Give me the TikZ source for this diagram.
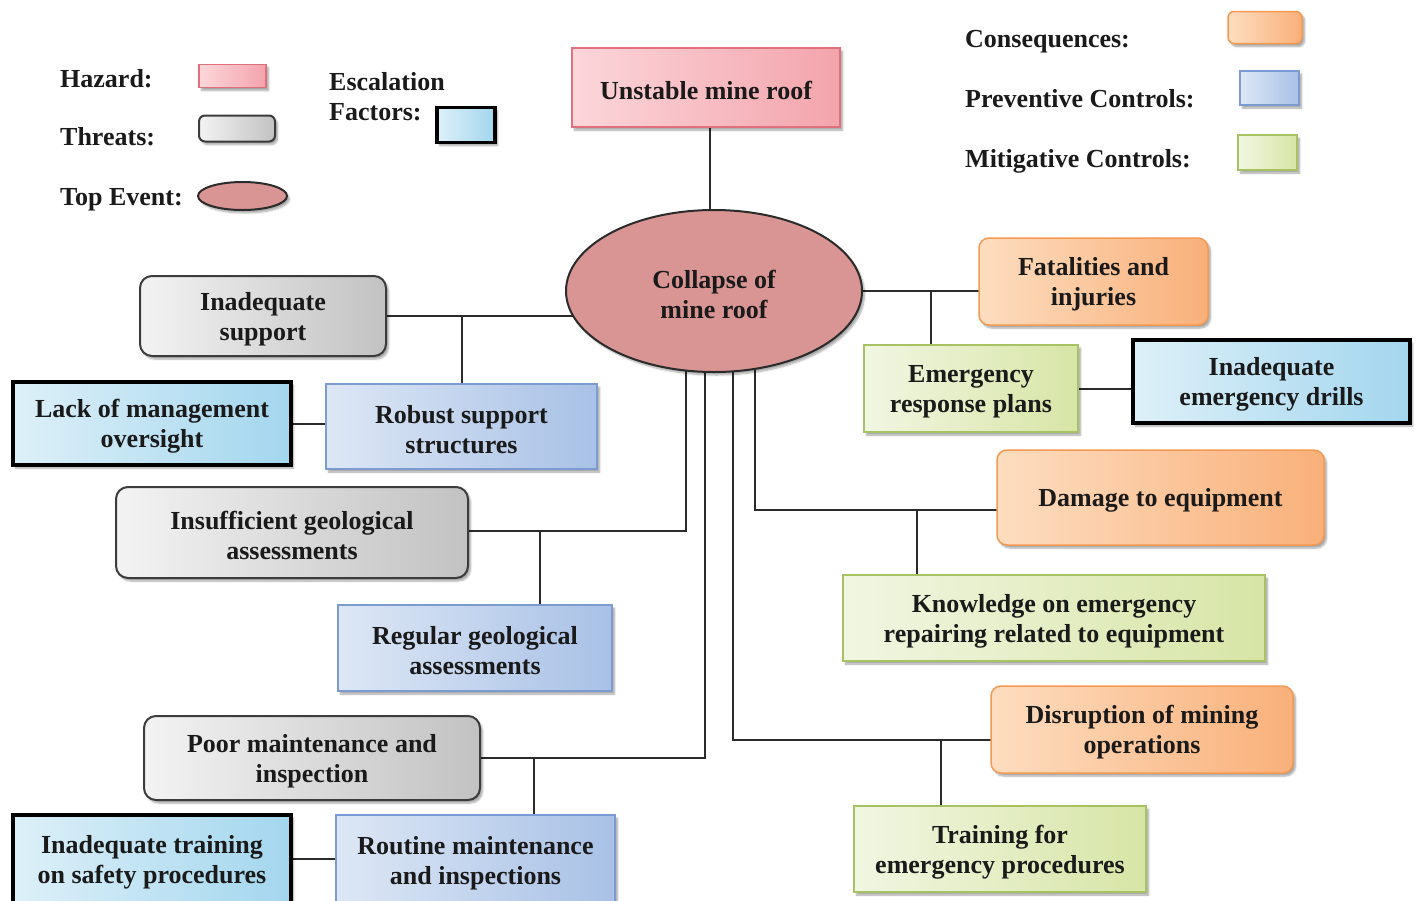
\documentclass[tikz,border=0pt]{standalone}
\usepackage{fontspec}
\setmainfont{Liberation Serif}
\usetikzlibrary{shapes.geometric,shadows.blur}
\pgfdeclarelayer{background}
\pgfsetlayers{background,main}
\definecolor{inkc}{HTML}{1A1A1A}
\definecolor{linec}{HTML}{2B2B2B}
\definecolor{hazL}{HTML}{FBD6DA}\definecolor{hazR}{HTML}{F3A4AC}\definecolor{hazB}{HTML}{E0707C}
\definecolor{thrL}{HTML}{F3F3F3}\definecolor{thrR}{HTML}{C2C2C2}\definecolor{thrB}{HTML}{3C3C3C}
\definecolor{topF}{HTML}{D99594}
\definecolor{escL}{HTML}{DDF0F8}\definecolor{escR}{HTML}{A3D6EE}
\definecolor{prvL}{HTML}{DDE7F5}\definecolor{prvR}{HTML}{A8C1E6}\definecolor{prvB}{HTML}{7C9BD0}
\definecolor{mitL}{HTML}{F1F6E2}\definecolor{mitR}{HTML}{D7E5A6}\definecolor{mitB}{HTML}{A6C262}
\definecolor{conL}{HTML}{FDDDC0}\definecolor{conR}{HTML}{F9B07A}\definecolor{conB}{HTML}{F39A52}
\newcommand{\lblfont}{\fontsize{26}{30}\selectfont\bfseries}
\begin{document}
\begin{tikzpicture}[x=1pt,y=-1pt,
  sz/.style 2 args={minimum width=#1pt,minimum height=#2pt},
  boxtext/.style={inner sep=0pt,align=center,font=\lblfont,text=inkc,yshift=-3pt},
  tx/.style={label={[boxtext]center:{#1}}},
  boxbase/.style={inner sep=0pt,
    blur shadow={shadow xshift=2.5pt,shadow yshift=-3pt,shadow opacity=35,shadow blur steps=6}},
  hazardbox/.style={boxbase,rectangle,draw=hazB,line width=1.5pt,left color=hazL,right color=hazR},
  threatbox/.style={boxbase,rectangle,rounded corners=12pt,draw=thrB,line width=2pt,left color=thrL,right color=thrR},
  topevent/.style={boxbase,ellipse,draw=linec,line width=2pt,fill=topF},
  escbox/.style={boxbase,rectangle,draw=black,line width=4.5pt,left color=escL,right color=escR},
  prevbox/.style={boxbase,rectangle,draw=prvB,line width=1.5pt,left color=prvL,right color=prvR},
  mitbox/.style={boxbase,rectangle,draw=mitB,line width=1.5pt,left color=mitL,right color=mitR},
  consbox/.style={boxbase,rectangle,rounded corners=10pt,draw=conB,line width=1.5pt,left color=conL,right color=conR},
  legtext/.style={font=\lblfont,text=inkc,inner sep=0pt,anchor=base west},
  link/.style={draw=linec,line width=2pt}]
\useasboundingbox (0,0) rectangle (1419,900);

% ---- legend ----
\node[legtext] (lhaz) at (60,87) {Hazard:};
\node[legtext] (lthr) at (60,145.5) {Threats:};
\node[legtext] (ltop) at (60,205.5) {Top Event:};
\node[legtext] (lesc1) at (329,90.5) {Escalation};
\node[legtext] (lesc2) at (329,120.5) {Factors:};
\node[legtext] (lcon) at (965,47.5) {Consequences:};
\node[legtext] (lprv) at (965,107) {Preventive Controls:};
\node[legtext] (lmit) at (965,167) {Mitigative Controls:};

\node[hazardbox,sz={67}{23}] (khaz) at (232.5,76) {};
\node[threatbox,sz={76}{26},rounded corners=6pt] (kthr) at (237,128.5) {};
\node[topevent,sz={89}{28}] (ktop) at (242.5,196) {};
\node[escbox,sz={58}{35},line width=3.5pt] (kesc) at (466,125) {};
\node[consbox,sz={74}{32},rounded corners=6pt] (kcon) at (1265,27.5) {};
\node[prevbox,sz={59}{34}] (kprv) at (1269.5,88) {};
\node[mitbox,sz={59}{35}] (kmit) at (1267.5,152.5) {};

% ---- hazard and top event ----
\node[hazardbox,sz={268}{79},tx={Unstable mine roof}] (hazard) at (706,87.5) {};
\node[topevent,sz={296}{162},tx={Collapse of\\mine roof}] (top) at (714,291) {};

% ---- threats, preventive controls, escalation factors ----
\node[threatbox,sz={246}{80},tx={Inadequate\\support}] (th1) at (263,316) {};
\node[prevbox,sz={271}{85},tx={Robust support\\structures}] (pc1) at (461.5,426.5) {};
\node[escbox,sz={278}{83},tx={Lack of management\\oversight}] (ef1) at (152,423.5) {};

\node[threatbox,sz={352}{91},tx={Insufficient geological\\assessments}] (th2) at (292,532.5) {};
\node[prevbox,sz={274}{86},tx={Regular geological\\assessments}] (pc2) at (475,648) {};

\node[threatbox,sz={336}{84},tx={Poor maintenance and\\inspection}] (th3) at (312,758) {};
\node[prevbox,sz={279}{90},tx={Routine maintenance\\and inspections}] (pc3) at (475.5,860) {};
\node[escbox,sz={278}{88},tx={Inadequate training\\on safety procedures}] (ef3) at (152,859) {};

% ---- consequences, mitigative controls, escalation factors ----
\node[consbox,sz={229}{87},tx={Fatalities and\\injuries}] (cq1) at (1093.5,281.5) {};
\node[mitbox,sz={214}{87},tx={Emergency\\response plans}] (mc1) at (971,388.5) {};
\node[escbox,sz={277}{83},tx={Inadequate\\emergency drills}] (ef2) at (1271.5,381.5) {};

\node[consbox,sz={327}{95},tx={Damage to equipment}] (cq2) at (1160.5,497.5) {};
\node[mitbox,sz={422}{86},tx={Knowledge on emergency\\repairing related to equipment}] (mc2) at (1054,618) {};

\node[consbox,sz={302}{87},tx={Disruption of mining\\operations}] (cq3) at (1142,729.5) {};
\node[mitbox,sz={292}{86},tx={Training for\\emergency procedures}] (mc3) at (1000,849) {};

% ---- connectors (drawn behind the shapes) ----
\begin{pgfonlayer}{background}
  \path[link] ([xshift=-4pt]top.center) -- ([xshift=-4pt]top.center |- hazard.center);
  % left branches
  \path[link] (th1.center) -- (th1.center -| top.center);
  \path[link] (th1.center -| pc1.center) -- (pc1.center);
  \path[link] (ef1.center) -- (ef1.center -| pc1.center);
  \path[link] ([yshift=2pt]th2.center) -| ([xshift=-28pt]top.center);
  \path[link] ([xshift=65pt]pc2.center) -- ([xshift=65pt,yshift=2pt]pc2.center |- th2.center);
  \path[link] (th3.center) -| ([xshift=-9pt]top.center);
  \path[link] ([xshift=58pt]pc3.center) -- ([xshift=58pt]pc3.center |- th3.center);
  \path[link] (ef3.center) -- (ef3.center -| pc3.center);
  % right branches
  \path[link] (top.center) -- (top.center -| cq1.center);
  \path[link] ([xshift=-40pt]mc1.center) -- ([xshift=-40pt]mc1.center |- top.center);
  \path[link] (mc1.center) -- (mc1.center -| ef2.center);
  \path[link] ([yshift=-12pt]cq2.center) -| ([xshift=41pt]top.center);
  \path[link] ([xshift=-137pt]mc2.center) -- ([xshift=-137pt,yshift=-12pt]mc2.center |- cq2.center);
  \path[link] ([yshift=-10pt]cq3.center) -| ([xshift=19pt]top.center);
  \path[link] ([xshift=-59pt]mc3.center) -- ([xshift=-59pt,yshift=-10pt]mc3.center |- cq3.center);
\end{pgfonlayer}
\end{tikzpicture}
\end{document}
